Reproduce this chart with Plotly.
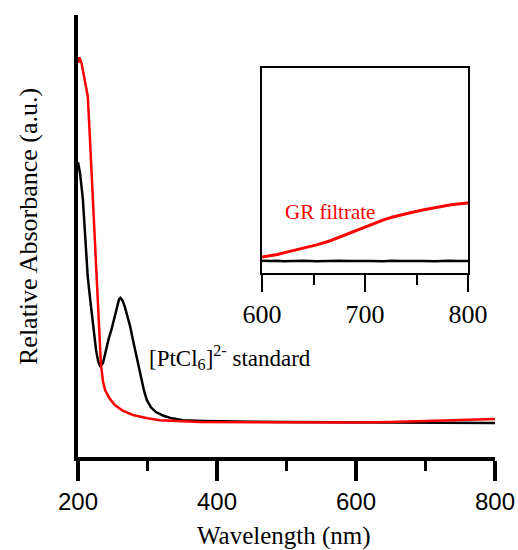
import plotly.graph_objects as go

# ---- main spectra (wavelength nm, relative absorbance) ----
pt_wl = [200, 203, 207, 210, 214, 218, 222, 226, 229, 232, 236, 240, 244, 248, 252, 256, 259, 261, 264,
         267, 270, 275, 279, 285, 290, 295, 299, 305, 312, 323, 335, 351, 380, 400, 450, 500, 600, 700, 800]
pt_abs = [0.80, 0.77, 0.70, 0.62, 0.49, 0.42, 0.345, 0.29, 0.26, 0.245, 0.255, 0.29, 0.32, 0.345, 0.375,
          0.41, 0.428, 0.432, 0.425, 0.41, 0.39, 0.355, 0.318, 0.265, 0.22, 0.18, 0.155, 0.135, 0.122,
          0.112, 0.105, 0.100, 0.098, 0.097, 0.096, 0.095, 0.094, 0.093, 0.092]

gr_wl = [200, 202, 205, 208, 211, 214, 216, 218, 221, 225, 229, 233, 236, 239, 245, 253, 265, 279, 300,
         318, 375, 500, 600, 650, 700, 750, 800]
gr_abs = [1.07, 1.085, 1.07, 1.04, 1.01, 0.98, 0.91, 0.83, 0.70, 0.53, 0.38, 0.25, 0.205, 0.182, 0.16,
          0.141, 0.125, 0.114, 0.105, 0.100, 0.095, 0.094, 0.094, 0.095, 0.097, 0.100, 0.103]

# ---- inset (600-800 nm, zoomed) ----
ins_wl = [600, 608, 615, 621, 630, 640, 653, 665, 675, 685, 695, 705, 718, 726, 734, 745, 756, 768, 782, 790, 800]
ins_gr = [0.078, 0.083, 0.09, 0.098, 0.108, 0.12, 0.137, 0.155, 0.175, 0.195, 0.215, 0.235, 0.259, 0.272,
          0.283, 0.295, 0.307, 0.32, 0.332, 0.337, 0.341]
ins_pt = [0.060, 0.058, 0.060, 0.057, 0.059, 0.060, 0.057, 0.059, 0.060, 0.058, 0.060, 0.059, 0.057, 0.060,
          0.058, 0.060, 0.059, 0.057, 0.060, 0.058, 0.059]

main_ticks = [200, 400, 600, 800]
inset_ticks = [600, 700, 800]

SERIF = "Liberation Serif"
SANS = "Liberation Sans"

fig = go.Figure()
fig.add_trace(go.Scatter(x=pt_wl, y=pt_abs, mode="lines", line=dict(color="black", width=2.5),
                         xaxis="x", yaxis="y", showlegend=False))
fig.add_trace(go.Scatter(x=gr_wl, y=gr_abs, mode="lines", line=dict(color="#ff0000", width=2.5),
                         xaxis="x", yaxis="y", showlegend=False))
fig.add_trace(go.Scatter(x=ins_wl, y=ins_pt, mode="lines", line=dict(color="black", width=2.5),
                         xaxis="x2", yaxis="y2", showlegend=False))
fig.add_trace(go.Scatter(x=ins_wl, y=ins_gr, mode="lines", line=dict(color="#ff0000", width=3),
                         xaxis="x2", yaxis="y2", showlegend=False))

W, H = 518, 550
fig.update_layout(
    template="none",
    width=W, height=H, margin=dict(l=0, r=0, t=0, b=0, autoexpand=False),
    paper_bgcolor="white", plot_bgcolor="white",
    font=dict(family=SERIF, color="black"),
    xaxis=dict(domain=[78 / W, 495 / W], range=[200, 800], anchor="y", automargin=False,
               showline=True, linecolor="black", linewidth=4, showgrid=False, zeroline=False,
               ticks="outside", ticklen=20, tickwidth=4, tickcolor="black",
               tickvals=main_ticks, ticktext=[str(t) for t in main_ticks],
               tickfont=dict(family=SANS, size=24, color="black"),
               minor=dict(ticks="outside", ticklen=10, tickwidth=3, tickcolor="black", dtick=100,
                          tick0=200, showgrid=False)),
    yaxis=dict(domain=[(H - 457) / H, (H - 15) / H], range=[0, 1.2], anchor="x", automargin=False,
               showline=True, linecolor="black", linewidth=4, showgrid=False, zeroline=False,
               showticklabels=False, ticks=""),
    xaxis2=dict(domain=[262 / W, 468 / W], range=[600, 800], anchor="y2", automargin=False,
                showline=True, mirror=True, linecolor="black", linewidth=2, showgrid=False,
                zeroline=False, ticks="outside", ticklen=17, tickwidth=2, tickcolor="black",
                tickvals=inset_ticks, ticktext=[str(t) for t in inset_ticks],
                tickfont=dict(family=SERIF, size=26, color="black"),
                minor=dict(ticks="outside", ticklen=10, tickwidth=2, tickcolor="black", dtick=50,
                           tick0=600, showgrid=False)),
    yaxis2=dict(domain=[(H - 273) / H, (H - 68) / H], range=[0, 1], anchor="x2", automargin=False,
                showline=True, mirror=True, linecolor="black", linewidth=2, showgrid=False,
                zeroline=False, showticklabels=False, ticks=""),
    annotations=[
        dict(text="Wavelength (nm)", xref="paper", yref="paper", x=284 / W, y=(H - 536) / H,
             showarrow=False, font=dict(family=SERIF, size=25, color="black"),
             xanchor="center", yanchor="middle"),
        dict(text="Relative Absorbance (a.u.)", xref="paper", yref="paper", x=28 / W, y=(H - 227) / H,
             showarrow=False, textangle=-90, font=dict(family=SERIF, size=26, color="black"),
             xanchor="center", yanchor="middle"),
        dict(text="[PtCl<sub>6</sub>]<sup>2-</sup> standard", xref="paper", yref="paper",
             x=147 / W, y=(H - 357) / H, showarrow=False,
             font=dict(family=SERIF, size=23, color="black"), xanchor="left", yanchor="middle"),
        dict(text="GR filtrate", xref="paper", yref="paper", x=283 / W, y=(H - 212) / H,
             showarrow=False, font=dict(family=SERIF, size=21, color="#ff0000"),
             xanchor="left", yanchor="middle"),
    ],
)

fig.write_html("out.html")
